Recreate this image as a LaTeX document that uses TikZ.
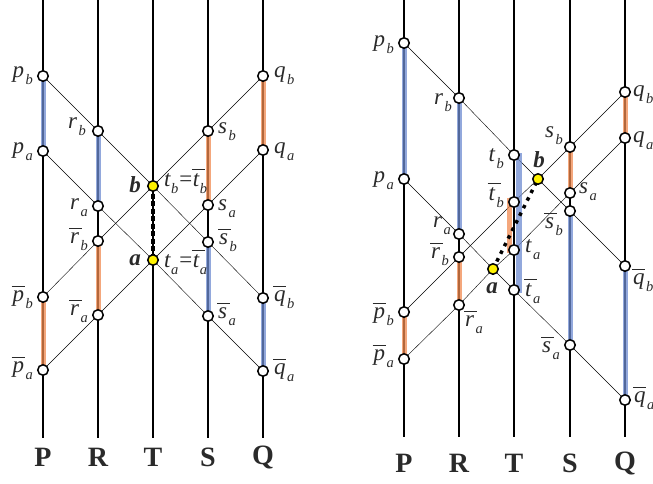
\documentclass[tikz,border=0pt]{standalone}
\usepackage{fontspec}
\setmainfont{Liberation Serif}
\usetikzlibrary{calc}
\pgfdeclarelayer{bg}
\pgfsetlayers{bg,main}
\definecolor{barblue}{HTML}{6E8BD0}
\definecolor{barorange}{HTML}{F08A50}
\definecolor{ptyellow}{HTML}{FFF200}
\definecolor{thin}{HTML}{BCBCBC}
\definecolor{txt}{HTML}{2A2A2A}
\newcommand{\sbs}[1]{\kern1.5pt\raisebox{-7pt}{\fontsize{14.5}{14.5}\selectfont\itshape #1}}
\newcommand{\sbt}[1]{\kern0.5pt\raisebox{-7pt}{\fontsize{14.5}{14.5}\selectfont\itshape #1}}
\newcommand{\ovl}[1]{\setbox0=\hbox{\itshape #1}\rlap{\kern-1pt\raisebox{\dimexpr\ht0+2.8pt\relax}{\rule{13pt}{1.5pt}}}\box0}
\tikzset{
  vline/.style={line width=2pt, black},
  gline/.style={line width=0.65pt, thin},
  pt/.style={circle, draw, line width=1.5pt, fill=white, inner sep=0pt, minimum size=10.5pt},
  ypt/.style={pt, fill=ptyellow},
  lbl/.style={inner sep=0pt, text=txt, font=\fontsize{23}{26}\selectfont},
  axl/.style={inner sep=0pt, text=txt, font=\fontsize{28}{30}\selectfont\bfseries},
  bbar/.style={line width=5pt, draw=barblue, opacity=.75},
  obar/.style={line width=5pt, draw=barorange, opacity=.75},
}
\begin{document}
\begin{tikzpicture}[x=1pt,y=-1pt]
\useasboundingbox (0,0) rectangle (653,483);
% ---------------- left panel ----------------
\foreach \n/\x in {P/43,R/98,T/153,S/208,Q/263}{
  \coordinate (L\n top) at (\x,0);
  \coordinate (L\n bot) at (\x,438);
}
\node[pt] (Lpb) at (43,76) {};
\node[pt] (Lrb) at (98,131) {};
\node[ypt] (Lb) at (153,186) {};
\node[pt] (Lsbarb) at (208,242) {};
\node[pt] (Lqbarb) at (263,298) {};
\node[pt] (Lpa) at (43,151) {};
\node[pt] (Lra) at (98,206) {};
\node[ypt] (La) at (153,260) {};
\node[pt] (Lsbara) at (208,316) {};
\node[pt] (Lqbara) at (263,371) {};
\node[pt] (Lqb) at (263,76) {};
\node[pt] (Lsb) at (208,131) {};
\node[pt] (Lrbarb) at (98,241) {};
\node[pt] (Lpbarb) at (43,297) {};
\node[pt] (Lqa) at (263,150) {};
\node[pt] (Lsa) at (208,205) {};
\node[pt] (Lrbara) at (98,315) {};
\node[pt] (Lpbara) at (43,370) {};
\begin{pgfonlayer}{bg}
  \draw[gline] (Lpb.center) -- (Lrb.center) -- (Lb.center) -- (Lsbarb.center) -- (Lqbarb.center);
  \draw[gline] (Lpa.center) -- (Lra.center) -- (La.center) -- (Lsbara.center) -- (Lqbara.center);
  \draw[gline] (Lqb.center) -- (Lsb.center) -- (Lb.center) -- (Lrbarb.center) -- (Lpbarb.center);
  \draw[gline] (Lqa.center) -- (Lsa.center) -- (La.center) -- (Lrbara.center) -- (Lpbara.center);
  \foreach \n in {P,R,T,S,Q}{\draw[vline] (L\n top) -- (L\n bot);}
  \draw[bbar] (Lpb.center) -- (Lpa.center);
  \draw[obar] (Lpbarb.center) -- (Lpbara.center);
  \draw[bbar] (Lrb.center) -- (Lra.center);
  \draw[obar] (Lrbarb.center) -- (Lrbara.center);
  \draw[obar] (Lsb.center) -- (Lsa.center);
  \draw[bbar] (Lsbarb.center) -- (Lsbara.center);
  \draw[obar] (Lqb.center) -- (Lqa.center);
  \draw[bbar] (Lqbarb.center) -- (Lqbara.center);
  \draw[line width=3.8pt, dash pattern=on 5pt off 2.5pt] (Lb.center) -- (La.center);
\end{pgfonlayer}
\node[lbl, anchor=base east] (tLpb) at ($(Lpb)+(-10,1.5)$) {\itshape p\sbs{b}};
\node[lbl, anchor=base east] (tLpa) at ($(Lpa)+(-10,2)$) {\itshape p\sbs{a}};
\node[lbl, anchor=base east] (tLrb) at ($(Lrb)+(-12,-3)$) {\itshape r\sbs{b}};
\node[lbl, anchor=base east] (tLra) at ($(Lra)+(-10,3)$) {\itshape r\sbs{a}};
\node[lbl, anchor=base east] (tLrbarb) at ($(Lrbarb)+(-10,2)$) {\ovl{r}\sbs{b}};
\node[lbl, anchor=base east] (tLrbara) at ($(Lrbara)+(-10,0)$) {\ovl{r}\sbs{a}};
\node[lbl, anchor=base east] (tLpbarb) at ($(Lpbarb)+(-10,4)$) {\ovl{p}\sbs{b}};
\node[lbl, anchor=base east] (tLpbara) at ($(Lpbara)+(-10,2)$) {\ovl{p}\sbs{a}};
\node[lbl, anchor=base east] (tLb) at ($(Lb)+(-12,6)$) {\bfseries\itshape b};
\node[lbl, anchor=base east] (tLa) at ($(La)+(-12,5)$) {\bfseries\itshape a};
\node[lbl, anchor=base west] (tLtb) at ($(Lb)+(11,0)$) {\itshape t\sbt{b}\kern-0.5pt=\kern-0.5pt\ovl{t}\sbt{b}};
\node[lbl, anchor=base west] (tLta) at ($(La)+(11,7)$) {\itshape t\sbt{a}\kern-0.5pt=\kern-0.5pt\ovl{t}\sbt{a}};
\node[lbl, anchor=base west] (tLqb) at ($(Lqb)+(11,1.5)$) {\itshape q\sbs{b}};
\node[lbl, anchor=base west] (tLqa) at ($(Lqa)+(11,3)$) {\itshape q\sbs{a}};
\node[lbl, anchor=base west] (tLsb) at ($(Lsb)+(10,2)$) {\itshape s\sbs{b}};
\node[lbl, anchor=base west] (tLsa) at ($(Lsa)+(10,5)$) {\itshape s\sbs{a}};
\node[lbl, anchor=base west] (tLsbarb) at ($(Lsbarb)+(11,2)$) {\ovl{s}\sbs{b}};
\node[lbl, anchor=base west] (tLsbara) at ($(Lsbara)+(10,2)$) {\ovl{s}\sbs{a}};
\node[lbl, anchor=base west] (tLqbarb) at ($(Lqbarb)+(11,3)$) {\ovl{q}\sbs{b}};
\node[lbl, anchor=base west] (tLqbara) at ($(Lqbara)+(11,3)$) {\ovl{q}\sbs{a}};
\node[axl] (LPl) at (43,457) {P};
\node[axl] (LRl) at (98,457) {R};
\node[axl] (LTl) at (153,457) {T};
\node[axl] (LSl) at (208,457) {S};
\node[axl] (LQl) at (263,457) {Q};
% ---------------- right panel ----------------
\foreach \n/\x in {P/404,R/459,T/514,S/570,Q/625}{
  \coordinate (R\n top) at (\x,0);
  \coordinate (R\n bot) at (\x,437);
}
\node[pt] (Rpb) at (404,43) {};
\node[pt] (Rrb) at (459,98) {};
\node[pt] (Rtb) at (514,155) {};
\node[ypt] (Rb) at (538,179) {};
\node[pt] (Rsbarb) at (570,211) {};
\node[pt] (Rqbarb) at (625,266) {};
\node[pt] (Rpa) at (404,179) {};
\node[pt] (Rra) at (459,234) {};
\node[ypt] (Ra) at (493,269) {};
\node[pt] (Rtbara) at (514,290) {};
\node[pt] (Rsbara) at (570,345) {};
\node[pt] (Rqbara) at (625,400) {};
\node[pt] (Rqb) at (625,92) {};
\node[pt] (Rsb) at (570,147) {};
\node[pt] (Rtbarb) at (514,202) {};
\node[pt] (Rrbarb) at (459,257) {};
\node[pt] (Rpbarb) at (404,312) {};
\node[pt] (Rqa) at (625,138) {};
\node[pt] (Rsa) at (570,193) {};
\node[pt] (Rta) at (514,250) {};
\node[pt] (Rrbara) at (459,305) {};
\node[pt] (Rpbara) at (404,359) {};
\begin{pgfonlayer}{bg}
  \draw[gline] (Rpb.center) -- (Rrb.center) -- (Rtb.center) -- (Rb.center) -- (Rsbarb.center) -- (Rqbarb.center);
  \draw[gline] (Rpa.center) -- (Rra.center) -- (Ra.center) -- (Rtbara.center) -- (Rsbara.center) -- (Rqbara.center);
  \draw[gline] (Rqb.center) -- (Rsb.center) -- (Rb.center) -- (Rtbarb.center) -- (Rrbarb.center) -- (Rpbarb.center);
  \draw[gline] (Rqa.center) -- (Rsa.center) -- (Rta.center) -- (Ra.center) -- (Rrbara.center) -- (Rpbara.center);
  \foreach \n in {P,R,T,S,Q}{\draw[vline] (R\n top) -- (R\n bot);}
  \draw[bbar] (Rpb.center) -- (Rpa.center);
  \draw[obar] (Rpbarb.center) -- (Rpbara.center);
  \draw[bbar] (Rrb.center) -- (Rra.center);
  \draw[obar] (Rrbarb.center) -- (Rrbara.center);
  \draw[bbar, line width=5.5pt, shorten <=-2pt, shorten >=-3pt] ([xshift=5pt]Rtb.center) -- ([xshift=5pt]Rtbara.center);
  \draw[obar, shorten <=-4pt, shorten >=-3pt] ([xshift=-4.5pt]Rtbarb.center) -- ([xshift=-4.5pt]Rta.center);
  \draw[obar] (Rsb.center) -- (Rsa.center);
  \draw[bbar] (Rsbarb.center) -- (Rsbara.center);
  \draw[obar] (Rqb.center) -- (Rqa.center);
  \draw[bbar] (Rqbarb.center) -- (Rqbara.center);
  \draw[line width=3.5pt, dash pattern=on 3.5pt off 5pt] (Ra.center) -- (Rb.center);
\end{pgfonlayer}
\node[lbl, anchor=base east] (tRpb) at ($(Rpb)+(-10,3)$) {\itshape p\sbs{b}};
\node[lbl, anchor=base east] (tRpa) at ($(Rpa)+(-10,3)$) {\itshape p\sbs{a}};
\node[lbl, anchor=base east] (tRrb) at ($(Rrb)+(-7,6)$) {\itshape r\sbs{b}};
\node[lbl, anchor=base east] (tRra) at ($(Rra)+(-8,-7)$) {\itshape r\sbs{a}};
\node[lbl, anchor=base east] (tRrbarb) at ($(Rrbarb)+(-10,1)$) {\ovl{r}\sbs{b}};
\node[lbl, anchor=base west] (tRrbara) at ($(Rrbara)+(6,21)$) {\ovl{r}\sbs{a}};
\node[lbl, anchor=base east] (tRpbarb) at ($(Rpbarb)+(-10,6)$) {\ovl{p}\sbs{b}};
\node[lbl, anchor=base east] (tRpbara) at ($(Rpbara)+(-10,1)$) {\ovl{p}\sbs{a}};
\node[lbl, anchor=base east] (tRtb) at ($(Rtb)+(-10,6)$) {\itshape t\sbs{b}};
\node[lbl, anchor=base east] (tRtbarb) at ($(Rtbarb)+(-10,-2)$) {\ovl{t}\sbs{b}};
\node[lbl, anchor=base] (tRb) at ($(Rb)+(1,-12)$) {\bfseries\itshape b};
\node[lbl, anchor=base] (tRa) at ($(Ra)+(-1,24)$) {\bfseries\itshape a};
\node[lbl, anchor=base west] (tRta) at ($(Rta)+(11,2)$) {\itshape t\sbs{a}};
\node[lbl, anchor=base west] (tRtbara) at ($(Rtbara)+(11,6)$) {\ovl{t}\sbs{a}};
\node[lbl, anchor=base east] (tRsb) at ($(Rsb)+(-7,-10)$) {\itshape s\sbs{b}};
\node[lbl, anchor=base west] (tRsa) at ($(Rsa)+(9,0)$) {\itshape s\sbs{a}};
\node[lbl, anchor=base east] (tRsbarb) at ($(Rsbarb)+(-7,17)$) {\ovl{s}\sbs{b}};
\node[lbl, anchor=base east] (tRsbara) at ($(Rsbara)+(-10,7)$) {\ovl{s}\sbs{a}};
\node[lbl, anchor=base west] (tRqb) at ($(Rqb)+(8,4)$) {\itshape q\sbs{b}};
\node[lbl, anchor=base west] (tRqa) at ($(Rqa)+(8,4)$) {\itshape q\sbs{a}};
\node[lbl, anchor=base west] (tRqbarb) at ($(Rqbarb)+(8,18)$) {\ovl{q}\sbs{b}};
\node[lbl, anchor=base west] (tRqbara) at ($(Rqbara)+(9,2)$) {\ovl{q}\sbs{a}};
\node[axl] (RPl) at (404,463) {P};
\node[axl] (RRl) at (459,463) {R};
\node[axl] (RTl) at (514,463) {T};
\node[axl] (RSl) at (570,463) {S};
\node[axl] (RQl) at (625,463) {Q};
\end{tikzpicture}
\end{document}
